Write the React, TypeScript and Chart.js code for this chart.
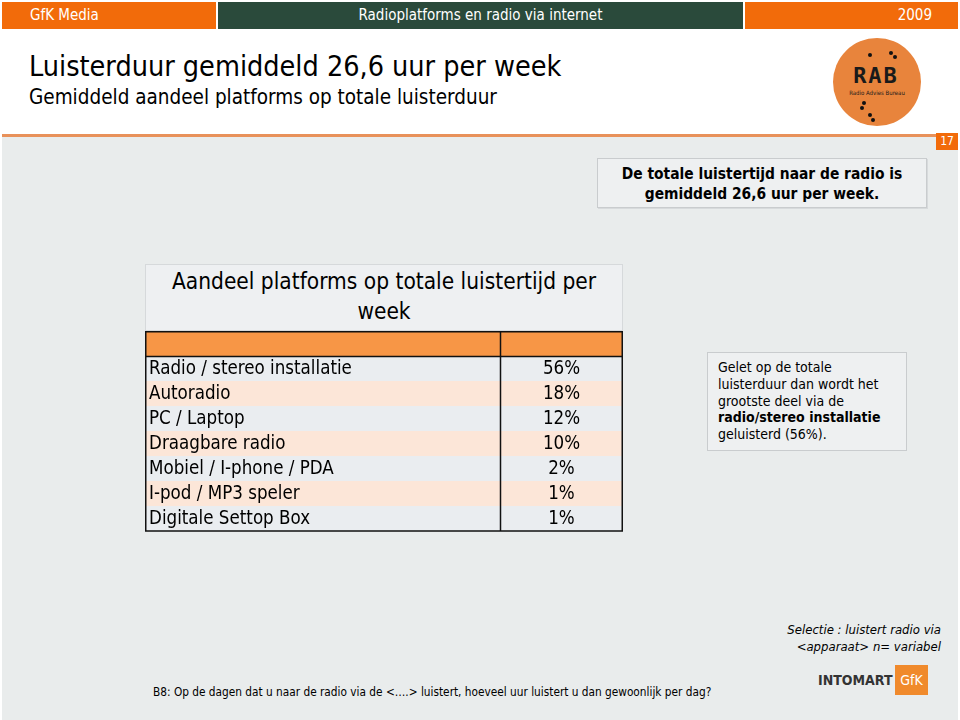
import React, { useEffect, useRef } from "react";
import { Chart, registerables } from "chart.js";

Chart.register(...registerables);

// ---- data ----
const platforms = [
  "Radio / stereo installatie",
  "Autoradio",
  "PC / Laptop",
  "Draagbare radio",
  "Mobiel / I-phone / PDA",
  "I-pod / MP3 speler",
  "Digitale Settop Box",
];
const shares = [56, 18, 12, 10, 2, 1, 1];
const shareLabels = ["56%", "18%", "12%", "10%", "2%", "1%", "1%"];

const FONT = '"DejaVu Sans Condensed", "DejaVu Sans", sans-serif';
const ORANGE = "#F79646";
const PEACH = "#FCE6D8";
const LIGHT = "#EAEDF0";

const TW = 478;
const TH = 202;
const HEADER_H = 25;
const DIVIDER_X = 355;

function TableChart() {
  const ref = useRef<HTMLCanvasElement | null>(null);
  useEffect(() => {
    const canvas = ref.current;
    if (!canvas) return;
    const tablePlugin = {
      id: "tableDraw",
      beforeDatasetsDraw(chart: any) {
        const ctx = chart.ctx;
        const y = chart.scales.y;
        const area = chart.chartArea;
        ctx.save();
        ctx.fillStyle = ORANGE;
        ctx.fillRect(0, 0, chart.width, area.top);
        const step = y.getPixelForValue(1) - y.getPixelForValue(0);
        platforms.forEach((_, i) => {
          const c = y.getPixelForValue(i);
          ctx.fillStyle = i % 2 === 0 ? LIGHT : PEACH;
          ctx.fillRect(0, c - step / 2, chart.width, step);
        });
        ctx.restore();
      },
      afterDatasetsDraw(chart: any) {
        const ctx = chart.ctx;
        const y = chart.scales.y;
        const area = chart.chartArea;
        ctx.save();
        ctx.fillStyle = "#000";
        ctx.font = `18.6px ${FONT}`;
        ctx.textBaseline = "middle";
        platforms.forEach((p, i) => {
          const c = y.getPixelForValue(i);
          ctx.textAlign = "left";
          ctx.fillText(p, 4, c + 1);
          ctx.textAlign = "center";
          ctx.fillText(shareLabels[i], (DIVIDER_X + chart.width) / 2, c + 1);
        });
        // borders
        ctx.strokeStyle = "#111";
        ctx.lineWidth = 1.5;
        ctx.strokeRect(0.75, 0.75, chart.width - 1.5, area.bottom - 0.75);
        ctx.beginPath();
        ctx.moveTo(0, area.top + 0.5);
        ctx.lineTo(chart.width, area.top + 0.5);
        ctx.moveTo(DIVIDER_X + 0.5, 0);
        ctx.lineTo(DIVIDER_X + 0.5, area.bottom);
        ctx.stroke();
        ctx.restore();
      },
    };
    const chart = new Chart(canvas, {
      type: "bar",
      data: {
        labels: platforms,
        datasets: [
          {
            data: shares,
            backgroundColor: "rgba(0,0,0,0)",
            borderWidth: 0,
            barPercentage: 1,
            categoryPercentage: 1,
          },
        ],
      },
      options: {
        indexAxis: "y",
        animation: false,
        responsive: false,
        maintainAspectRatio: false,
        events: [],
        layout: { padding: { top: HEADER_H, left: 0, right: 0, bottom: 2 } },
        scales: {
          x: { display: false, min: 0, max: 100 },
          y: { display: false },
        },
        plugins: { legend: { display: false }, tooltip: { enabled: false } },
      },
      plugins: [tablePlugin],
    } as any);
    return () => chart.destroy();
  }, []);
  return (
    <canvas
      ref={ref}
      width={TW}
      height={TH}
      style={{ position: "absolute", left: 145, top: 331, width: TW, height: TH }}
    />
  );
}

const abs = (s: React.CSSProperties): React.CSSProperties => ({ position: "absolute", ...s });

function Dot({ x, y }: { x: number; y: number }) {
  return <div style={abs({ left: x - 2, top: y - 2, width: 4, height: 4, borderRadius: 2, background: "#111" })} />;
}

export default function App() {
  return (
    <div
      style={abs({
        left: 0,
        top: 0,
        width: 960,
        height: 720,
        background: "#fff",
        fontFamily: FONT,
        overflow: "hidden",
        color: "#000",
      })}
    >
      {/* header bands */}
      <div style={abs({ left: 2, top: 2, width: 214, height: 27, background: "#F26B0A" })} />
      <div style={abs({ left: 218, top: 2, width: 525, height: 27, background: "#2A4A3B" })} />
      <div style={abs({ left: 745, top: 2, width: 213, height: 27, background: "#F26B0A" })} />
      <div style={abs({ left: 30, top: 6, fontSize: 15, color: "#fff", lineHeight: "18px" })}>GfK Media</div>
      <div style={abs({ left: 218, top: 6, width: 525, textAlign: "center", fontSize: 15, color: "#fff", lineHeight: "18px" })}>
        Radioplatforms en radio via internet
      </div>
      <div style={abs({ left: 745, top: 6, width: 187, textAlign: "right", fontSize: 15, color: "#fff", lineHeight: "18px" })}>2009</div>

      {/* titles */}
      <div style={abs({ left: 29, top: 50, fontSize: 28.5, lineHeight: "34px", whiteSpace: "nowrap" })}>
        Luisterduur gemiddeld 26,6 uur per week
      </div>
      <div style={abs({ left: 29, top: 85, fontSize: 20.5, lineHeight: "24px", whiteSpace: "nowrap" })}>
        Gemiddeld aandeel platforms op totale luisterduur
      </div>

      {/* RAB logo */}
      <div style={abs({ left: 833, top: 38, width: 88, height: 88, borderRadius: 44, background: "#E8843C" })} />
      <div style={abs({ left: 845, top: 64, width: 62, textAlign: "center", fontSize: 22, fontWeight: "bold", letterSpacing: 2, color: "#1a1a1a", lineHeight: "24px", fontFamily: '"DejaVu Sans Mono", monospace' })}>
        RAB
      </div>
      <div style={abs({ left: 840, top: 89, width: 74, textAlign: "center", fontSize: 6, color: "#1a1a1a", lineHeight: "8px", whiteSpace: "nowrap" })}>
        Radio Advies Bureau
      </div>
      <Dot x={870} y={55} />
      <Dot x={891} y={53} />
      <Dot x={895} y={57} />
      <Dot x={864} y={103} />
      <Dot x={862} y={108} />
      <Dot x={870} y={115} />
      <Dot x={873} y={120} />

      {/* gray body */}
      <div style={abs({ left: 2, top: 134, width: 956, height: 3, background: "#E8915A" })} />
      <div style={abs({ left: 2, top: 137, width: 956, height: 583, background: "#E9ECEC" })} />
      <div style={abs({ left: 936, top: 133, width: 22, height: 17, background: "#F26B0A", color: "#fff", fontSize: 12, textAlign: "center", lineHeight: "17px" })}>
        17
      </div>

      {/* callout */}
      <div
        style={abs({
          left: 597,
          top: 158,
          width: 330,
          height: 50,
          background: "#EEF0F1",
          border: "1px solid #C9CCCE",
          boxShadow: "1px 1px 0 #D7DADC",
          fontSize: 15.4,
          fontWeight: "bold",
          textAlign: "center",
          lineHeight: "20px",
          paddingTop: 5,
          boxSizing: "border-box",
        })}
      >
        De totale luistertijd naar de radio is
        <br />
        gemiddeld 26,6 uur per week.
      </div>

      {/* table title */}
      <div
        style={abs({
          left: 145,
          top: 264,
          width: 478,
          height: 67,
          background: "#EEF0F2",
          border: "1px solid #D6D9DB",
          boxSizing: "border-box",
          fontSize: 22.5,
          textAlign: "center",
          lineHeight: "30px",
          paddingTop: 1,
          whiteSpace: "nowrap",
        })}
      >
        Aandeel platforms op totale luistertijd per
        <br />
        week
      </div>

      <TableChart />

      {/* note box */}
      <div
        style={abs({
          left: 707,
          top: 352,
          width: 200,
          height: 99,
          background: "#EEF0F1",
          border: "1px solid #C9CCCE",
          boxSizing: "border-box",
          fontSize: 14,
          lineHeight: "16.75px",
          padding: "6px 0 0 10px",
        })}
      >
        Gelet op de totale
        <br />
        luisterduur dan wordt het
        <br />
        grootste deel via de
        <br />
        <b>radio/stereo installatie</b>
        <br />
        geluisterd (56%).
      </div>

      {/* footer */}
      <div style={abs({ left: 600, top: 622, width: 341, textAlign: "right", fontSize: 13, fontStyle: "italic", lineHeight: "16.5px" })}>
        Selectie : luistert radio via
        <br />
        &lt;apparaat&gt; n= variabel
      </div>
      <div style={abs({ left: 818, top: 671, fontSize: 14, fontWeight: "bold", color: "#333", lineHeight: "18px" })}>INTOMART</div>
      <div style={abs({ left: 895, top: 665, width: 33, height: 30, background: "#F08A2C", color: "#fff", fontSize: 14, textAlign: "center", lineHeight: "30px" })}>
        GfK
      </div>
      <div style={abs({ left: 153, top: 685, fontSize: 11.75, lineHeight: "15px", whiteSpace: "nowrap" })}>
        B8: Op de dagen dat u naar de radio via de &lt;….&gt; luistert, hoeveel uur luistert u dan gewoonlijk per dag?
      </div>
    </div>
  );
}
